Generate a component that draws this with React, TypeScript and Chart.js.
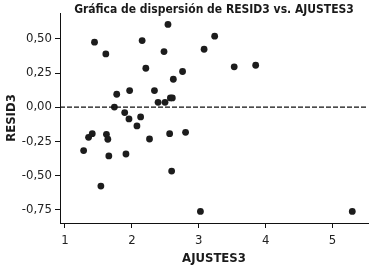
import React, { useEffect, useRef } from "react";
import { Chart, registerables } from "chart.js";

Chart.register(...registerables);

const ajustes: number[] = [
  1.442, 1.611, 2.154, 2.540, 2.481, 3.080, 2.209, 2.758, 2.620, 1.774,
  1.967, 2.338, 2.392, 2.496, 2.576, 2.605, 1.739, 1.893, 1.957, 2.131,
  2.076, 3.238, 3.530, 3.851, 1.353, 1.408, 1.620, 1.641, 1.279, 1.656,
  1.912, 2.264, 2.565, 2.803, 2.595, 1.537, 3.025, 5.295,
];
const resid: number[] = [
  0.476, 0.39, 0.488, 0.606, 0.407, 0.424, 0.285, 0.261, 0.204, 0.094,
  0.121, 0.121, 0.035, 0.035, 0.067, 0.067, 0.0, -0.04, -0.087, -0.072,
  -0.138, 0.52, 0.295, 0.307, -0.222, -0.195, -0.2, -0.236, -0.319, -0.358,
  -0.344, -0.234, -0.195, -0.185, -0.469, -0.579, -0.765, -0.765,
];
const xTicks: number[] = [1, 2, 3, 4, 5];
const yTicks: number[] = [-0.75, -0.5, -0.25, 0, 0.25, 0.5];
const X_MIN = 0.926;
const X_MAX = 5.53;
const Y_MIN = -0.85;
const Y_MAX = 0.69;

const FONT = "'Liberation Sans Narrow', 'DejaVu Sans Condensed', 'Roboto Condensed', sans-serif";

export default function App() {
  const ref = useRef<HTMLCanvasElement | null>(null);
  useEffect(() => {
    document.body.style.margin = "0";
    if (!ref.current) return;
    const chart = new Chart(ref.current, {
      type: "scatter",
      data: {
        datasets: [
          {
            type: "line",
            data: [
              { x: X_MIN, y: 0 },
              { x: X_MAX, y: 0 },
            ],
            borderColor: "#111",
            borderWidth: 1.3,
            borderDash: [5, 2],
            pointRadius: 0,
            fill: false,
          } as any,
          {
            data: ajustes.map((x, i) => ({ x, y: resid[i] })),
            backgroundColor: "#1c1c1c",
            borderColor: "#1c1c1c",
            pointRadius: 3.4,
            borderWidth: 0,
          },
        ],
      },
      options: {
        animation: false,
        responsive: false,
        layout: { padding: { left: 0, right: 2, top: 0, bottom: 0 } },
        plugins: {
          legend: { display: false },
          tooltip: { enabled: false },
          title: {
            display: true,
            fullSize: false,
            text: "Gráfica de dispersión de RESID3 vs. AJUSTES3",
            color: "#1a1a1a",
            font: { family: FONT, size: 12, weight: "bold", lineHeight: 1 },
            padding: { top: 4, bottom: -3 },
          },
        },
        scales: {
          x: {
            type: "linear",
            min: X_MIN,
            max: X_MAX,
            afterBuildTicks: (s: any) => {
              s.ticks = xTicks.map((v) => ({ value: v }));
            },
            afterFit: (s: any) => {
              s.height = 45;
            },
            grid: {
              drawOnChartArea: false,
              drawTicks: true,
              tickLength: 5,
              color: "#111",
            },
            border: { display: true, color: "#111", width: 1 },
            ticks: {
              color: "#222",
              padding: 5,
              font: { family: FONT, size: 13 },
              callback: (v: any) => String(v),
            },
            title: {
              display: true,
              text: "AJUSTES3",
              color: "#1a1a1a",
              font: { family: FONT, size: 13, weight: "bold" },
              padding: { top: 0, bottom: 2 },
            },
          },
          y: {
            type: "linear",
            min: Y_MIN,
            max: Y_MAX,
            afterBuildTicks: (s: any) => {
              s.ticks = yTicks.map((v) => ({ value: v }));
            },
            afterFit: (s: any) => {
              s.width = 60;
            },
            grid: {
              drawOnChartArea: false,
              drawTicks: true,
              tickLength: 5,
              color: "#111",
            },
            border: { display: true, color: "#111", width: 1 },
            ticks: {
              color: "#222",
              padding: 3,
              font: { family: FONT, size: 13 },
              callback: (v: any) => Number(v).toFixed(2).replace(".", ","),
            },
            title: {
              display: true,
              text: "RESID3",
              color: "#1a1a1a",
              font: { family: FONT, size: 13, weight: "bold" },
              padding: { top: 4, bottom: 0 },
            },
          },
        },
      },
    });
    return () => chart.destroy();
  }, []);
  return <canvas ref={ref} width={372} height={268} style={{ display: "block" }} />;
}
